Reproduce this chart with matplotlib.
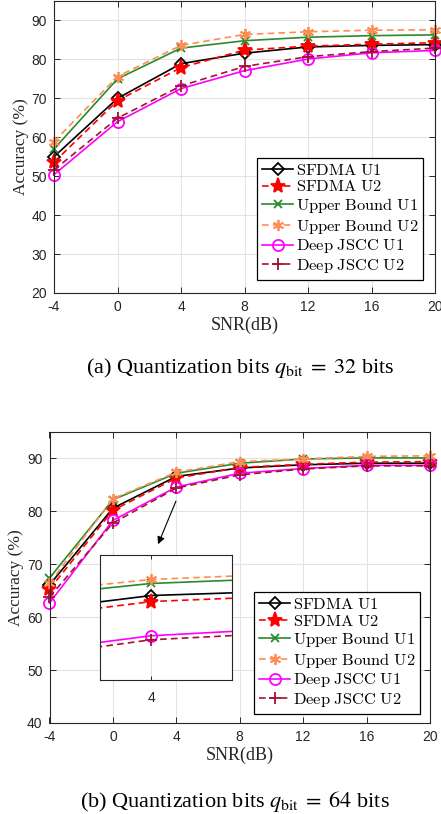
import matplotlib
matplotlib.use('Agg')
from matplotlib import pyplot as plt
from matplotlib.font_manager import FontProperties

# data
snr = [-4, 0, 4, 8, 12, 16, 20]

# (a) q_bit = 32
sf_u1_32 = [55.0, 70.0, 78.9, 81.6, 83.2, 83.6, 83.8]
sf_u2_32 = [53.6, 69.4, 77.9, 82.4, 83.4, 83.9, 84.3]
ub_u1_32 = [57.0, 75.0, 82.9, 84.8, 85.7, 86.1, 86.3]
ub_u2_32 = [58.9, 75.6, 83.6, 86.4, 87.1, 87.5, 87.6]
dj_u1_32 = [50.4, 64.0, 72.5, 77.1, 80.1, 81.7, 82.3]
dj_u2_32 = [51.6, 64.9, 73.2, 78.2, 80.7, 82.0, 82.9]

# (b) q_bit = 64
sf_u1_64 = [66.1, 80.6, 86.6, 88.2, 88.8, 89.1, 89.1]
sf_u2_64 = [65.3, 80.2, 86.3, 88.3, 88.9, 89.3, 89.4]
ub_u1_64 = [67.4, 82.2, 87.2, 89.1, 89.9, 90.1, 90.1]
ub_u2_64 = [66.4, 82.4, 87.4, 89.4, 89.9, 90.4, 90.5]
dj_u1_64 = [62.7, 78.3, 84.6, 87.2, 88.1, 88.7, 88.7]
dj_u2_64 = [63.8, 77.8, 84.4, 86.9, 88.0, 88.6, 88.6]

labels = ['SFDMA U1', 'SFDMA U2', 'Upper Bound U1', 'Upper Bound U2',
          'Deep JSCC U1', 'Deep JSCC U2']

# style of each curve: color, linestyle, marker, fill, size
styles = [
    ('black', '-', 'D', 'none', 6.5),
    ('red', '--', '*', 'red', 11),
    ('#2b8a2b', '-', 'x', 'none', 6),
    ('#ff8c55', '--', (6, 2, 0), 'none', 8),
    ('magenta', '-', 'o', 'none', 8),
    ('#a2142f', '--', '+', 'none', 8),
]

W, H = 441, 814
fig = plt.figure(figsize=(W / 100, H / 100), dpi=100)

axc = '#262626'
tick_font = 'Liberation Sans'
lab_font = 'Liberation Serif'


def pix_axes(l, t, r, b):
    return fig.add_axes([l / W, 1 - b / H, (r - l) / W, (b - t) / H])


def draw_lines(ax, series, clip=False):
    for ys, lab, (c, ls, m, fc, ms) in zip(series, labels, styles):
        ax.plot(snr, ys, color=c, linestyle=ls, lw=1.2, marker=m,
                markersize=ms, markerfacecolor=fc, markeredgecolor=c,
                markeredgewidth=1.3, clip_on=clip,
                label=r'$\mathrm{' + lab.replace(' ', r'\ ') + '}$',
                dashes=(4, 2.5) if ls == '--' else (None, None))


def style_axes(ax, ylim, yticks):
    ax.set_xlim(-4, 20)
    ax.set_ylim(*ylim)
    ax.set_xticks(snr)
    ax.set_yticks(yticks)
    ax.set_xticklabels([str(v) for v in snr])
    ax.grid(True, color='#e3e3e3', lw=0.8)
    ax.set_axisbelow(True)
    ax.tick_params(direction='in', top=True, right=True, length=4, width=0.7,
                   colors=axc, labelsize=10, pad=5)
    for lab in ax.get_xticklabels() + ax.get_yticklabels():
        lab.set_family(tick_font)
    for s in ax.spines.values():
        s.set_color(axc)
        s.set_linewidth(0.8)
    ax.set_xlabel('SNR(dB)', family=lab_font, fontsize=13, color=axc, labelpad=2)
    ax.set_ylabel('Accuracy (%)', family=lab_font, fontsize=12.5, color=axc, labelpad=2)


leg_prop = FontProperties(size=11.8, math_fontfamily='cm')


def add_legend(ax, anchor):
    leg = ax.legend(loc='lower right', bbox_to_anchor=anchor, prop=leg_prop,
                    frameon=True, fancybox=False, edgecolor='black', framealpha=1,
                    borderaxespad=0, handlelength=1.9, handletextpad=0.15,
                    labelspacing=0.1, borderpad=0.3)
    leg.get_frame().set_linewidth(0.9)
    leg.set_zorder(10)
    return leg


# (a)
ax1 = pix_axes(54, 1, 435, 293)
draw_lines(ax1, [sf_u1_32, sf_u2_32, ub_u1_32, ub_u2_32, dj_u1_32, dj_u2_32])
style_axes(ax1, (20, 95), range(20, 91, 10))
add_legend(ax1, (0.9685, 0.045))

# (b)
ax2 = pix_axes(49.5, 432, 430, 723)
series64 = [sf_u1_64, sf_u2_64, ub_u1_64, ub_u2_64, dj_u1_64, dj_u2_64]
draw_lines(ax2, series64)
style_axes(ax2, (40, 95), range(40, 91, 10))
add_legend(ax2, (0.9737, 0.031))

ax2.annotate('', xy=(2.78, 73.3), xytext=(4.04, 82.4),
             arrowprops=dict(arrowstyle='-|>', color='black', lw=0.8, mutation_scale=11))

# zoomed inset around SNR = 4 dB
axi = pix_axes(100, 555.3, 231.7, 680)
draw_lines(axi, series64, clip=True)
axi.set_xlim(3.79, 4.33)
axi.set_ylim(82.4, 88.6)
axi.set_xticks([4])
axi.set_yticks([])
axi.grid(True, axis='x', color='#e3e3e3', lw=0.8)
axi.set_axisbelow(True)
axi.tick_params(direction='in', top=True, length=3, width=0.7, colors=axc,
                labelsize=10, pad=8)
for lab in axi.get_xticklabels():
    lab.set_family(tick_font)
for s in axi.spines.values():
    s.set_color(axc)
    s.set_linewidth(0.8)

cap_kw = dict(family=lab_font, fontsize=16, ha='center', va='center',
              math_fontfamily='stix', color='black')
fig.text(240 / W, 1 - 368 / H, r'(a) Quantization bits $q_{\rm bit}\;=\;32$ bits', **cap_kw)
fig.text(235 / W, 1 - 801 / H, r'(b) Quantization bits $q_{\rm bit}\;=\;64$ bits', **cap_kw)

fig.savefig('out.png', dpi=100)
